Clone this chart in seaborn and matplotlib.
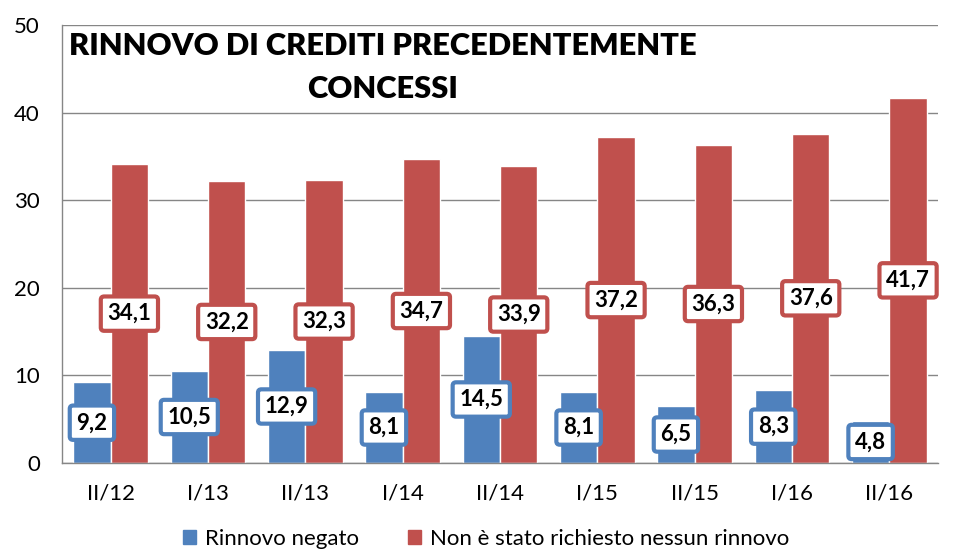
import numpy as np
import pandas as pd
import matplotlib
matplotlib.use("Agg")
import matplotlib.pyplot as plt
from matplotlib.patches import Patch
import seaborn as sns

periods = ["II/12", "I/13", "II/13", "I/14", "II/14", "I/15", "II/15", "I/16", "II/16"]
rinnovo_negato = [9.2, 10.5, 12.9, 8.1, 14.5, 8.1, 6.5, 8.3, 4.8]
non_richiesto = [34.1, 32.2, 32.3, 34.7, 33.9, 37.2, 36.3, 37.6, 41.7]
series_names = ["Rinnovo negato", "Non è stato richiesto nessun rinnovo"]
colors = ["#4F81BD", "#C0504D"]

df = pd.DataFrame({
    "periodo": periods * 2,
    "valore": rinnovo_negato + non_richiesto,
    "serie": [series_names[0]] * len(periods) + [series_names[1]] * len(periods),
})

sns.set_style("white")
plt.rcParams["font.family"] = ["Lato", "DejaVu Sans"]
plt.rcParams["text.color"] = "black"
plt.rcParams["xtick.color"] = "black"
plt.rcParams["ytick.color"] = "black"

fig = plt.figure(figsize=(9.61, 5.53), dpi=100)
ax = fig.add_axes([62 / 961, 1 - 463 / 553, (938 - 62) / 961, (463 - 25) / 553])

sns.barplot(data=df, x="periodo", y="valore", hue="serie", palette=colors,
            width=0.77, saturation=1, ax=ax, legend=False, errorbar=None)

ax.set_ylim(0, 50)
ax.set_xlim(-0.5, len(periods) - 0.5)
ax.set_yticks(range(0, 51, 10))
ax.set_xlabel("")
ax.set_ylabel("")
ax.yaxis.grid(True, color="#868686", linewidth=1)
ax.set_axisbelow(True)
for s in ["top", "right"]:
    ax.spines[s].set_visible(False)
for s in ["left", "bottom"]:
    ax.spines[s].set_color("#868686")
    ax.spines[s].set_linewidth(1)

ax.set_xticks(np.arange(-0.5, len(periods)), minor=True)
ax.tick_params(axis="x", which="major", length=0, pad=15, labelsize=16)
ax.tick_params(axis="x", which="minor", length=7, color="#868686", width=1)
ax.tick_params(axis="y", length=6, color="#868686", width=1, labelsize=16, pad=10)

for cont, col in zip(ax.containers, colors):
    for bar in cont:
        h = bar.get_height()
        ax.text(bar.get_x() + bar.get_width() / 2, h / 2, f"{h:.1f}".replace(".", ","),
                ha="center", va="center", fontsize=16, fontweight="bold", color="black",
                bbox=dict(boxstyle="round,pad=0.3,rounding_size=0.15", fc="white",
                          ec=col, lw=3))

ax.text(0.366, 0.984, "RINNOVO DI CREDITI PRECEDENTEMENTE\nCONCESSI", transform=ax.transAxes,
        ha="center", va="top", fontsize=22.2, fontweight="heavy", color="black",
        linespacing=1.65)

handles = [Patch(color=c) for c in colors]
fig.legend(handles, series_names, loc="center", bbox_to_anchor=(486 / 961, 0.026), ncol=2,
           frameon=False, fontsize=16, handlelength=0.6, handleheight=0.6,
           handletextpad=0.4, columnspacing=2.2, borderpad=0)

fig.savefig("out.png", dpi=100)
